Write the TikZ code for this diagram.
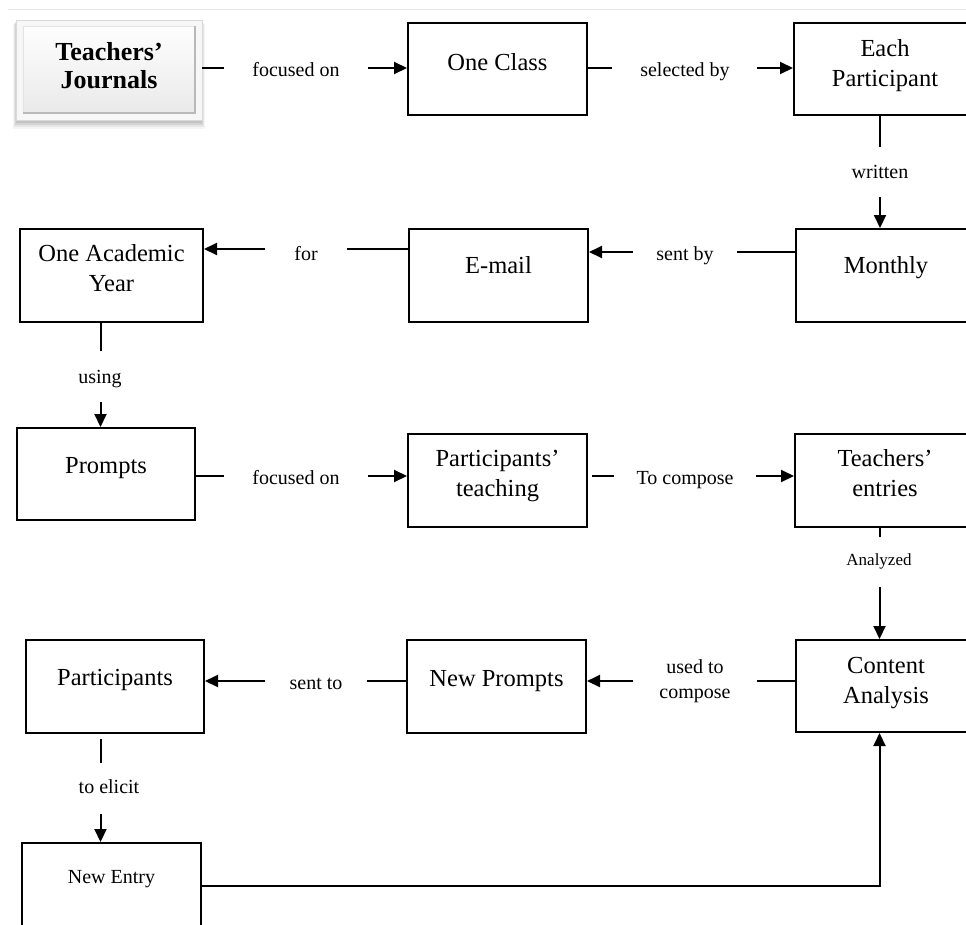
\documentclass[tikz,border=0pt]{standalone}
\usepackage{fontspec}
\setmainfont{Liberation Serif}
\usetikzlibrary{arrows.meta}
% text block inside a box: height, width, space above first line, text
\newcommand{\boxtext}[4]{\parbox[c][#1][t]{#2}{\centering\vspace*{#3}\strut #4}}
\begin{document}
\begin{tikzpicture}[x=1pt,y=-1pt,
  ln/.style={line width=2pt},
  arr/.style={-{Triangle[length=13pt,width=12pt]}},
  box/.style={draw, line width=2pt, inner sep=0pt, fill=white,
    font=\fontsize{24.5}{30}\selectfont},
  lbl/.style={inner sep=0pt, text height=14pt, text depth=4pt,
    font=\fontsize{20}{25}\selectfont},
  lbltwo/.style={inner sep=0pt, align=center, font=\fontsize{20}{25}\selectfont},
  bevel/.style={draw=gray!30, line width=0.6pt, inner sep=0pt, fill=gray!6,
    font=\bfseries\fontsize{26}{28}\selectfont,
    path picture={
      \shade[top color=white, bottom color=gray!18]
        ([shift={(7pt,-6pt)}]path picture bounding box.north west) rectangle
        ([shift={(-7pt,7pt)}]path picture bounding box.south east);
      \draw[gray!22, line width=1pt]
        ([shift={(7pt,7pt)}]path picture bounding box.south west) --
        ([shift={(7pt,-6pt)}]path picture bounding box.north west) --
        ([shift={(-7pt,-6pt)}]path picture bounding box.north east);
      \draw[gray!55, line width=1.6pt]
        ([shift={(7pt,7pt)}]path picture bounding box.south west) --
        ([shift={(-7pt,7pt)}]path picture bounding box.south east) --
        ([shift={(-7pt,-6pt)}]path picture bounding box.north east);
    }},
]
\useasboundingbox (0,0) rectangle (966,924);
\clip (0,0) rectangle (966,924);
\fill[white] (0,0) rectangle (966,924);

% thin rule along the top
\draw[gray!18, line width=1pt] (8,9) -- (966,9);

% soft shadow under the title button
\fill[black, opacity=0.04] (13,24) rectangle (205,129);
\fill[black, opacity=0.06] (14,23) rectangle (204,127);
\fill[black, opacity=0.08] (15,22) rectangle (203,125);
\fill[black, opacity=0.08] (16,21) rectangle (202,123);

% guide lines for connectors
\coordinate (r1) at (0,68);
\coordinate (r2a) at (0,252);
\coordinate (r2b) at (0,249);
\coordinate (r3) at (0,476);
\coordinate (r4) at (0,681);
\coordinate (r5) at (0,886);
\coordinate (c1) at (880,0);
\coordinate (c2) at (100.5,0);
\coordinate (c3) at (879.5,0);

% boxes
\node[bevel] (tj) at (109,70) {\boxtext{100pt}{186pt}{20.4pt}{Teachers’\\Journals}};
\node[box] (oneclass) at (497.5,69) {\boxtext{92pt}{179pt}{26pt}{One Class}};
\node[box] (eachp) at (885,69) {\boxtext{92pt}{182pt}{12pt}{Each\\Participant}};
\node[box] (monthly) at (886,275.5) {\boxtext{93pt}{180pt}{23pt}{Monthly}};
\node[box] (email) at (498.5,275.5) {\boxtext{93pt}{179pt}{23pt}{E-mail}};
\node[box] (oay) at (111.5,275.5) {\boxtext{93pt}{183pt}{11pt}{One Academic\\Year}};
\node[box] (prompts) at (106,474) {\boxtext{92pt}{178pt}{24pt}{Prompts}};
\node[box] (pteach) at (497.5,480.5) {\boxtext{93pt}{179pt}{11pt}{Participants’\\teaching}};
\node[box] (tentries) at (885,480.5) {\boxtext{93pt}{180pt}{11pt}{Teachers’\\entries}};
\node[box] (content) at (886,686) {\boxtext{92pt}{180pt}{12pt}{Content\\Analysis}};
\node[box] (newprompts) at (496.5,686.5) {\boxtext{93pt}{179pt}{25pt}{New Prompts}};
\node[box] (participants) at (115,686.5) {\boxtext{93pt}{178pt}{24pt}{Participants}};
\node[box, font=\fontsize{20}{25}\selectfont] (newentry) at (111.5,889)
  {\boxtext{92pt}{179pt}{22.5pt}{New Entry}};

% connector labels
\node[lbl] (l1) at (296,71) {focused on};
\node[lbl] (l2) at (685,71) {selected by};
\node[lbl] (lwr) at (880,173) {written};
\node[lbl] (lsb) at (685,255) {sent by};
\node[lbl] (lfor) at (306,255) {for};
\node[lbl] (lus) at (100,378) {using};
\node[lbl] (l3) at (296,479) {focused on};
\node[lbl] (l4) at (685,479) {To compose};
\node[lbl, font=\fontsize{17}{20}\selectfont] (lan) at (879,560) {Analyzed};
\node[lbltwo] (luc) at (695,681) {used to\\compose};
\node[lbl] (lst) at (316,684) {sent to};
\node[lbl] (lel) at (109,788) {to elicit};

% row 1
\draw[ln, shorten >=28pt] (tj.east |- r1) -- (l1.west |- r1);
\draw[ln, arr, shorten <=28pt] (l1.east |- r1) -- (oneclass.west |- r1);
\draw[ln, shorten >=28pt] (oneclass.east |- r1) -- (l2.west |- r1);
\draw[ln, arr, shorten <=27pt] (l2.east |- r1) -- (eachp.west |- r1);
% down to Monthly
\draw[ln, shorten >=17pt] (eachp.south -| c1) -- (lwr.north -| c1);
\draw[ln, arr, shorten <=15pt] (lwr.south -| c1) -- (monthly.north -| c1);
% row 2
\draw[ln, shorten >=23.4pt] (monthly.west |- r2a) -- (lsb.east |- r2a);
\draw[ln, arr, shorten <=23.4pt] (lsb.west |- r2a) -- (email.east |- r2a);
\draw[ln, shorten >=29.3pt] (email.west |- r2b) -- (lfor.east |- r2b);
\draw[ln, arr, shorten <=29.3pt] (lfor.west |- r2b) -- (oay.east |- r2b);
% down to Prompts
\draw[ln, shorten >=18pt] (oay.south -| c2) -- (lus.north -| c2);
\draw[ln, arr, shorten <=15pt] (lus.south -| c2) -- (prompts.north -| c2);
% row 3
\draw[ln, shorten >=28.4pt] (prompts.east |- r3) -- (l3.west |- r3);
\draw[ln, arr, shorten <=28pt] (l3.east |- r3) -- (pteach.west |- r3);
\draw[ln, shorten <=4pt, shorten >=22.8pt] (pteach.east |- r3) -- (l4.west |- r3);
\draw[ln, arr, shorten <=22.8pt] (l4.east |- r3) -- (tentries.west |- r3);
% down to Content Analysis
\draw[ln, shorten >=14pt] (tentries.south -| c3) -- (lan.north -| c3);
\draw[ln, arr, shorten <=18pt] (lan.south -| c3) -- (content.north -| c3);
% row 4
\draw[ln, shorten >=26.4pt] (content.west |- r4) -- (luc.east |- r4);
\draw[ln, arr, shorten <=26.4pt] (luc.west |- r4) -- (newprompts.east |- r4);
\draw[ln, shorten >=24.6pt] (newprompts.west |- r4) -- (lst.east |- r4);
\draw[ln, arr, shorten <=24.6pt] (lst.west |- r4) -- (participants.east |- r4);
% down to New Entry
\draw[ln, shorten <=5pt, shorten >=15.7pt] (participants.south -| c2) -- (lel.north -| c2);
\draw[ln, arr, shorten <=16.3pt] (lel.south -| c2) -- (newentry.north -| c2);
% back to Content Analysis
\draw[ln, arr] (newentry.east |- r5) -| (content.south -| c3);
\end{tikzpicture}
\end{document}
